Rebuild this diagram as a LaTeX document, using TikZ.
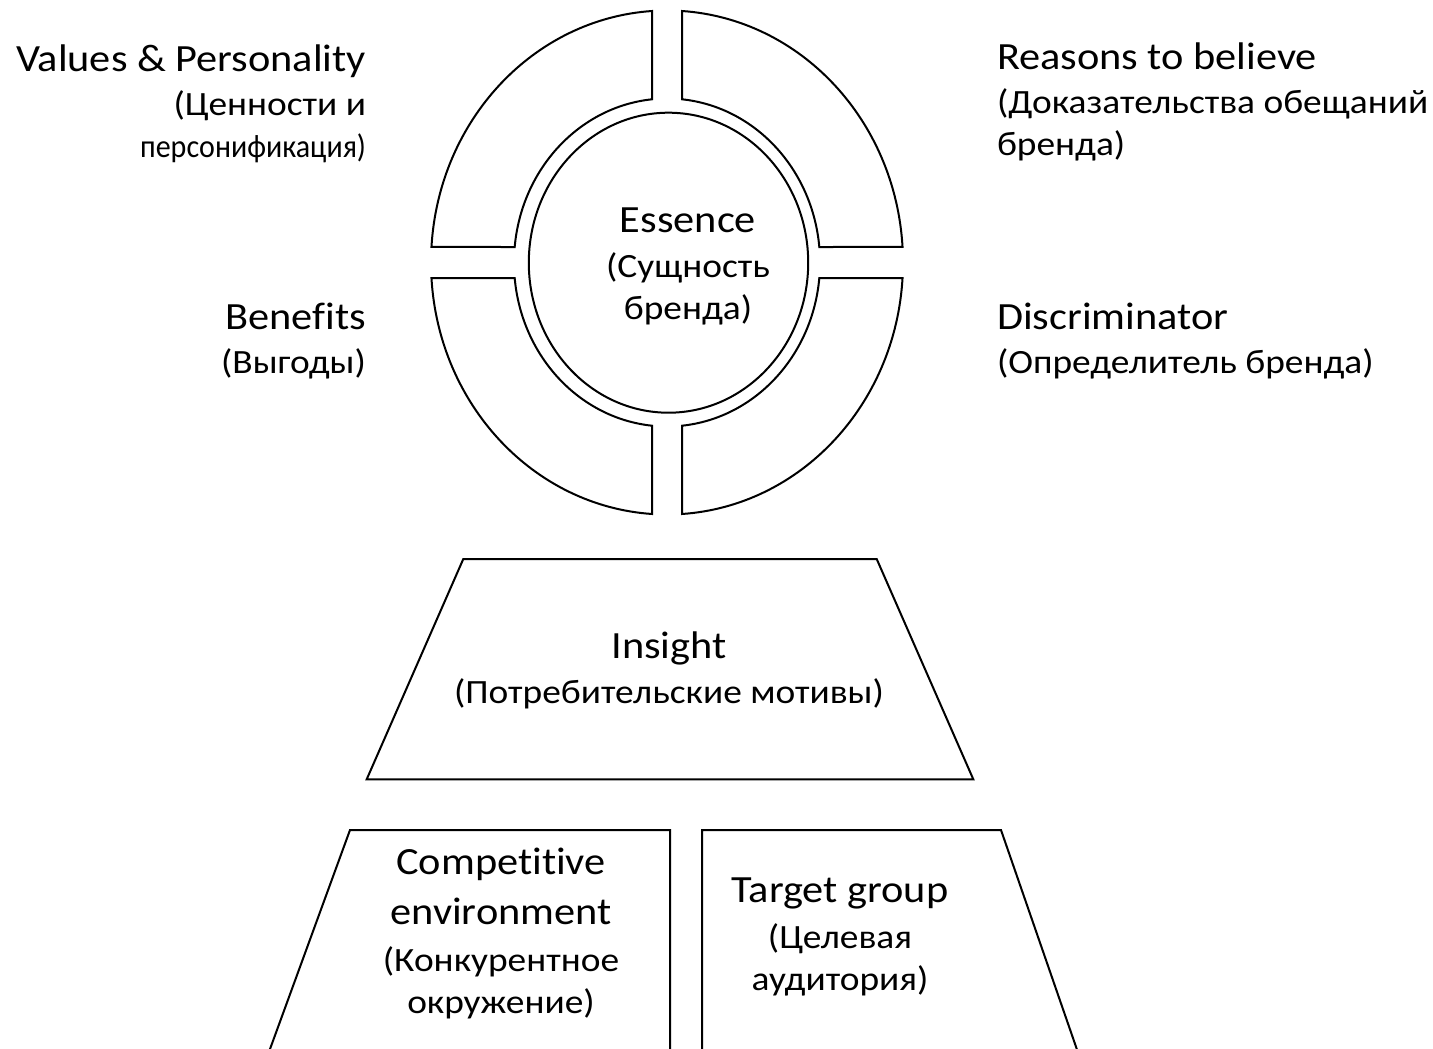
\documentclass[tikz,border=0pt]{standalone}
\usepackage{fontspec}
\usepackage{graphicx}
\setmainfont{Carlito}[FakeStretch=1.1, Ligatures=CommonOff]
\newcommand{\bigtxt}{\fontsize{38.5}{42}\selectfont}
\newcommand{\narrowtxt}[1]{{\fontsize{32.5}{42}\selectfont\scalebox{0.84}[1]{#1}}}
\tikzset{
  shp/.style={draw=black, line width=2pt, line join=miter},
  lab/.style={inner sep=0pt, outer sep=0pt, text=black, font=\fontsize{34}{42}\selectfont},
}
\begin{document}
\begin{tikzpicture}[x=1pt, y=-1pt]
\fill[white] (0,0) rectangle (1433,1049);
\path[use as bounding box] (0,0) rectangle (1433,1049);

% ring of four segments
\foreach \sx/\sy in {1/1,-1/1,1/-1,-1/-1}{
  \begin{scope}[shift={(667,262.5)}, xscale=\sx, yscale=\sy]
    \draw[shp] (15,-251.49) arc[start angle=-86.356, end angle=-3.526, x radius=236, y radius=252]
      -- (152.31,-15.5) arc[start angle=-5.423, end angle=-84.374, x radius=153, y radius=164] -- cycle;
  \end{scope}
}
% inner circle
\coordinate (core) at (668.5,262.7);
\draw[shp] (core) ellipse [x radius=139.7, y radius=150];

% insight trapezoid
\coordinate (i1) at (463.3,559);
\coordinate (i2) at (876.7,559);
\coordinate (i3) at (973.3,779.3);
\coordinate (i4) at (366.7,779.3);
\draw[shp] (i1) -- (i2) -- (i3) -- (i4) -- cycle;

% bottom trapezoids (cut by the page edge)
\begin{scope}
\clip (0,0) rectangle (1433,1049);
\coordinate (c1) at (268.2,1054);
\coordinate (c2) at (350,830);
\coordinate (c3) at (670,830);
\coordinate (c4) at (670,1054);
\draw[shp] (c1) -- (c2) -- (c3) -- (c4);
\coordinate (t1) at (702,1054);
\coordinate (t2) at (702,830);
\coordinate (t3) at (1001,830);
\coordinate (t4) at (1078.5,1054);
\draw[shp] (t1) -- (t2) -- (t3) -- (t4);
\end{scope}

% labels
\node[lab, anchor=base east] (values) at (366,71)
  {\begin{tabular}[t]{@{}r@{}}\bigtxt Values \& Personality\\[2pt] (Ценности и\\ \narrowtxt{персонификация)}\end{tabular}};
\node[lab, anchor=base west] (reasons) at (997,70)
  {\begin{tabular}[t]{@{}l@{}}\bigtxt Reasons to believe\\[2pt] (Доказательства обещаний\\ бренда)\end{tabular}};
\node[lab, anchor=base east] (benefits) at (366,329.3)
  {\begin{tabular}[t]{@{}r@{}}\bigtxt Benefits\\[2pt] (Выгоды)\end{tabular}};
\node[lab, anchor=base west] (discr) at (997,329.3)
  {\begin{tabular}[t]{@{}l@{}}\bigtxt Discriminator\\[2pt] (Определитель бренда)\end{tabular}};
\node[lab, anchor=base] (essence) at (688,232)
  {\begin{tabular}[t]{@{}c@{}}\bigtxt Essence\\[3pt] (Сущность\\ бренда)\end{tabular}};
\node[lab, anchor=base] (insight) at (669,658.3)
  {\begin{tabular}[t]{@{}c@{}}\bigtxt Insight\\[3pt] (Потребительские мотивы)\end{tabular}};
\node[lab, anchor=base] (compet) at (501,874.5)
  {\begin{tabular}[t]{@{}c@{}}\bigtxt Competitive\\[8pt] \bigtxt environment\\[5pt] (Конкурентное\\ окружение)\end{tabular}};
\node[lab, anchor=base] (target) at (840,902)
  {\begin{tabular}[t]{@{}c@{}}\bigtxt Target group\\[4pt] (Целевая\\ аудитория)\end{tabular}};
\end{tikzpicture}
\end{document}
